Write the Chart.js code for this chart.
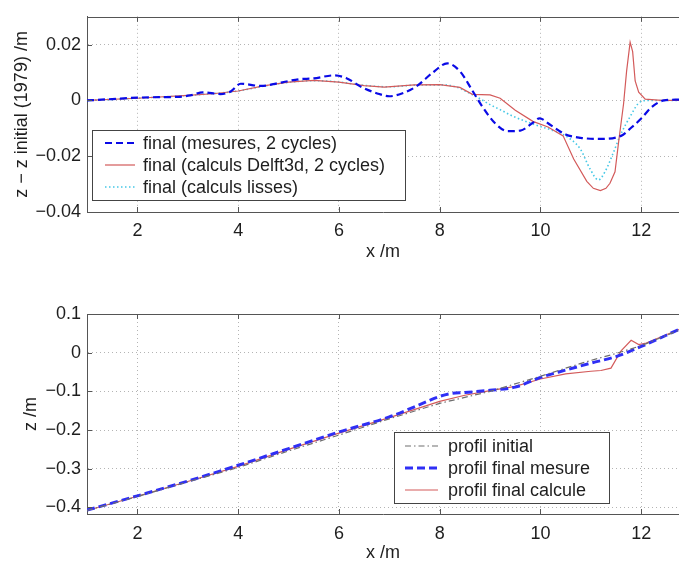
<!DOCTYPE html>
<html>
<head>
<meta charset="utf-8">
<script src="https://cdn.jsdelivr.net/npm/chart.js@4.4.1/dist/chart.umd.min.js"></script>
<style>
html, body { margin: 0; padding: 0; background: #fff; overflow: hidden; }
#wrap { position: relative; width: 679px; height: 561px; overflow: hidden; }
canvas { position: absolute; left: 0; }
#topChart { top: 0; }
#bottomChart { top: 270px; }
</style>
</head>
<body>
<div id="wrap">
<canvas id="topChart" width="679" height="270"></canvas>
<canvas id="bottomChart" width="679" height="300"></canvas>
</div>
<script>
// tick labels
const xTicks = [2, 4, 6, 8, 10, 12];
const yTicksTop = [-0.04, -0.02, 0, 0.02];
const yTicksBottom = [-0.4, -0.3, -0.2, -0.1, 0, 0.1];

// top panel: z - z initial (1979)
const mesX = [1.0, 1.5, 2.0, 2.5, 2.8, 3.05, 3.3, 3.65, 3.85, 4.05, 4.45, 4.85, 5.2, 5.5, 5.9, 6.15, 6.45, 6.8, 7.0, 7.25, 7.55, 7.85, 8.15, 8.4, 8.65, 8.85, 9.1, 9.35, 9.6, 9.85, 9.98, 10.2, 10.5, 10.8, 11.15, 11.6, 11.8, 12.0, 12.2, 12.45, 12.75];
const mesY = [0.0, 0.0005, 0.001, 0.0012, 0.0013, 0.0018, 0.0029, 0.0023, 0.0032, 0.006, 0.0052, 0.0064, 0.0076, 0.0079, 0.009, 0.008, 0.0048, 0.0023, 0.0015, 0.0025, 0.0052, 0.0098, 0.0133, 0.0105, 0.0035, -0.0023, -0.0082, -0.011, -0.0108, -0.008, -0.0064, -0.0088, -0.0122, -0.0134, -0.0138, -0.0127, -0.0098, -0.0065, -0.0025, 0.0, 0.0003];

const calcX = [1.0, 2.0, 3.0, 3.5, 4.0, 4.5, 5.0, 5.5, 6.0, 6.5, 6.9, 7.5, 8.0, 8.4, 8.65, 9.0, 9.2, 9.5, 9.85, 10.15, 10.45, 10.66, 10.92, 11.05, 11.19, 11.3, 11.38, 11.48, 11.55, 11.65, 11.71, 11.78, 11.83, 11.88, 11.95, 12.08, 12.4, 12.75];
const calcY = [0.0, 0.0008, 0.0018, 0.0024, 0.0034, 0.0052, 0.0066, 0.0072, 0.0066, 0.0053, 0.0048, 0.0056, 0.0057, 0.0047, 0.0022, 0.002, 0.0008, -0.0035, -0.0075, -0.0095, -0.0127, -0.021, -0.029, -0.0315, -0.0323, -0.0315, -0.0297, -0.0256, -0.0151, -0.0012, 0.0105, 0.0209, 0.0175, 0.007, 0.003, 0.0005, 0.0, 0.0];

const lisX = [1.0, 2.0, 3.0, 4.0, 4.5, 5.0, 5.5, 6.0, 6.5, 7.0, 7.5, 8.0, 8.3, 8.55, 8.8, 9.0, 9.2, 9.46, 9.86, 10.2, 10.45, 10.79, 10.98, 11.15, 11.28, 11.45, 11.58, 11.78, 11.98, 12.15, 12.75];
const lisY = [0.0, 0.0008, 0.0018, 0.0034, 0.0051, 0.0065, 0.0071, 0.0066, 0.0054, 0.0049, 0.0055, 0.0056, 0.005, 0.003, 0.0006, -0.0015, -0.0033, -0.0057, -0.0085, -0.0105, -0.0122, -0.0174, -0.0244, -0.0285, -0.0256, -0.0186, -0.0127, -0.0058, -0.0005, 0.0, 0.0];

// bottom panel: profiles z
const iniX = [1.0, 2.0, 3.0, 4.0, 5.0, 6.0, 7.0, 8.0, 9.0, 10.0, 10.5, 11.0, 11.5, 12.0, 12.75];
const iniY = [-0.408, -0.372, -0.334, -0.297, -0.254, -0.213, -0.171, -0.131, -0.100, -0.061, -0.040, -0.020, -0.002, 0.018, 0.058];

const finMesX = [1.0, 2.0, 3.0, 4.0, 5.0, 6.0, 7.0, 7.5, 8.0, 8.2, 8.5, 9.0, 9.5, 10.0, 10.5, 11.0, 11.5, 12.0, 12.75];
const finMesY = [-0.407, -0.370, -0.332, -0.291, -0.248, -0.205, -0.166, -0.140, -0.113, -0.106, -0.103, -0.097, -0.089, -0.064, -0.045, -0.027, -0.010, 0.016, 0.060];

const finCalX = [1.0, 2.0, 3.0, 4.0, 5.0, 6.0, 7.0, 8.0, 8.5, 9.0, 9.5, 10.0, 10.5, 11.0, 11.2, 11.4, 11.6, 11.8, 11.95, 12.1, 12.75];
const finCalY = [-0.408, -0.371, -0.333, -0.294, -0.250, -0.208, -0.168, -0.126, -0.110, -0.098, -0.087, -0.068, -0.055, -0.048, -0.046, -0.040, 0.005, 0.032, 0.021, 0.025, 0.060];

Chart.defaults.font.family = '"Liberation Sans", Arial, sans-serif';
Chart.defaults.font.size = 18;
Chart.defaults.color = '#1e1e1e';

function pts(xs, ys) { return xs.map((x, i) => ({x: x, y: ys[i]})); }
function fmt(v) { return v < 0 ? '\u2212' + String(-v) : String(v); }

// top border + inward ticks like matlab
const framePlugin = {
  id: 'frame',
  afterDraw(chart) {
    const {ctx, chartArea: a, scales} = chart;
    ctx.save();
    ctx.strokeStyle = '#555';
    ctx.lineWidth = 1;
    ctx.beginPath();
    ctx.moveTo(a.left, Math.round(a.top) + 0.5);
    ctx.lineTo(a.right, Math.round(a.top) + 0.5);
    scales.x.ticks.forEach(t => {
      const px = Math.round(scales.x.getPixelForValue(t.value)) + 0.5;
      ctx.moveTo(px, a.bottom); ctx.lineTo(px, a.bottom - 5);
      ctx.moveTo(px, a.top); ctx.lineTo(px, a.top + 5);
    });
    scales.y.ticks.forEach(t => {
      const py = Math.round(scales.y.getPixelForValue(t.value)) + 0.5;
      ctx.moveTo(a.left, py); ctx.lineTo(a.left + 5, py);
    });
    ctx.stroke();
    ctx.restore();
  }
};

// boxed legend inside the axes
const boxLegend = {
  id: 'boxLegend',
  afterDatasetsDraw(chart, args, o) {
    const ctx = chart.ctx;
    ctx.save();
    ctx.fillStyle = '#fff';
    ctx.fillRect(o.left, o.top, o.width, o.height);
    ctx.strokeStyle = '#444';
    ctx.lineWidth = 1;
    ctx.strokeRect(o.left + 0.5, o.top + 0.5, o.width, o.height);
    ctx.font = '18px "Liberation Sans", Arial, sans-serif';
    ctx.textBaseline = 'middle';
    chart.data.datasets.forEach((ds, i) => {
      const y = o.rows[i];
      ctx.strokeStyle = ds.borderColor;
      ctx.lineWidth = ds.borderWidth;
      ctx.setLineDash(ds.borderDash || []);
      ctx.beginPath();
      ctx.moveTo(o.lineFrom, y);
      ctx.lineTo(o.lineTo, y);
      ctx.stroke();
      ctx.setLineDash([]);
      ctx.fillStyle = '#1e1e1e';
      ctx.fillText(ds.label, o.textX, y + 1);
    });
    ctx.restore();
  }
};

function xScale(h, tickPad, titlePad) {
  return {
    type: 'linear', min: 1, max: 12.75,
    afterBuildTicks: s => { s.ticks = xTicks.map(v => ({value: v})); },
    afterFit: s => { s.height = h; },
    ticks: {padding: tickPad, maxRotation: 0, callback: v => fmt(v)},
    grid: {color: '#b4b4b4', drawTicks: false},
    border: {color: '#555', dash: [1, 3]},
    title: {display: true, text: 'x /m', padding: {top: 0, bottom: titlePad}}
  };
}
function yScale(min, max, ticks, label, titlePad) {
  return {
    type: 'linear', min: min, max: max,
    afterBuildTicks: s => { s.ticks = ticks.map(v => ({value: v})); },
    afterFit: s => { s.width = 87; },
    ticks: {padding: 6, callback: v => fmt(v)},
    grid: {color: '#b4b4b4', drawTicks: false},
    border: {color: '#555', dash: [1, 3]},
    title: {display: true, text: label, padding: {top: titlePad, bottom: 0}}
  };
}

const common = {
  responsive: false,
  animation: false,
  devicePixelRatio: 1,
  elements: {point: {radius: 0}}
};

new Chart(document.getElementById('topChart'), {
  type: 'line',
  data: {
    datasets: [
      {label: 'final (mesures, 2 cycles)', data: pts(mesX, mesY), borderColor: '#0a0ae6', borderWidth: 2.2, borderDash: [7, 4], cubicInterpolationMode: 'monotone'},
      {label: 'final (calculs Delft3d, 2 cycles)', data: pts(calcX, calcY), borderColor: '#d35a5a', borderWidth: 1.2},
      {label: 'final (calculs lisses)', data: pts(lisX, lisY), borderColor: '#45c8e6', borderWidth: 1.6, borderDash: [1.5, 2.5], cubicInterpolationMode: 'monotone'}
    ]
  },
  options: Object.assign({}, common, {
    layout: {padding: {top: 11, left: 0, right: 0, bottom: 0}},
    scales: {
      x: xScale(58, 8, 7),
      y: yScale(-0.04, 0.03, yTicksTop, 'z \u2212 z initial (1979) /m', 11)
    },
    plugins: {
      legend: {display: false},
      tooltip: {enabled: false},
      boxLegend: {left: 92, top: 130, width: 313, height: 70, rows: [143, 165, 187], lineFrom: 105, lineTo: 135, textX: 143}
    }
  }),
  plugins: [boxLegend, framePlugin]
});

new Chart(document.getElementById('bottomChart'), {
  type: 'line',
  data: {
    datasets: [
      {label: 'profil initial', data: pts(iniX, iniY), borderColor: '#6e6e6e', borderWidth: 1.2, borderDash: [6, 3, 1.5, 3]},
      {label: 'profil final mesure', data: pts(finMesX, finMesY), borderColor: '#2f2ff5', borderWidth: 3, borderDash: [8, 4], cubicInterpolationMode: 'monotone'},
      {label: 'profil final calcule', data: pts(finCalX, finCalY), borderColor: '#d35a5a', borderWidth: 1.2}
    ]
  },
  options: Object.assign({}, common, {
    layout: {padding: {top: 44, left: 0, right: 0, bottom: 0}},
    scales: {
      x: xScale(56, 9, 6),
      y: yScale(-0.417, 0.1, yTicksBottom, 'z /m', 20)
    },
    plugins: {
      legend: {display: false},
      tooltip: {enabled: false},
      boxLegend: {left: 394, top: 162, width: 215, height: 71, rows: [176, 198, 220], lineFrom: 405, lineTo: 438, textX: 448}
    }
  }),
  plugins: [boxLegend, framePlugin]
});
</script>
</body>
</html>
